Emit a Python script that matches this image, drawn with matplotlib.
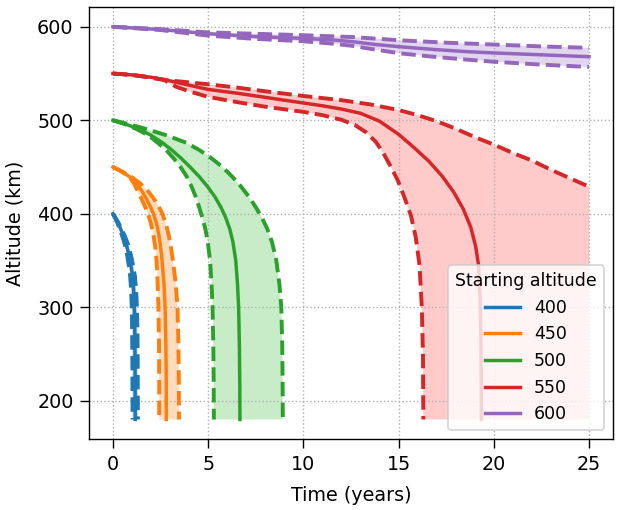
import matplotlib
matplotlib.use("Agg")
import matplotlib.pyplot as plt

plt.rcParams["font.size"] = 11

# starting altitudes (km), simulation horizon (years), re-entry altitude (km)
start_alt = [400, 450, 500, 550, 600]
T_MAX = 25
ALT_END = 180

line_colors = ["C0", "C1", "C2", "C3", "C4"]
band_colors = ["#bed7eb", "#ffdcbf", "#c8ecc8", "#ffcaca", "#e2d5ee"]

# --- 400 km: altitude grid and time to reach it (mean / fast / slow decay) ---
alt_400 = [400, 395, 390, 383, 376, 369, 361, 354, 343, 333, 320, 308, 290,
           270, 240, 210, 180]
t_400_mean = [0, 0.14, 0.27, 0.42, 0.56, 0.68, 0.78, 0.86, 0.96, 1.03, 1.08,
              1.11, 1.135, 1.15, 1.16, 1.165, 1.17]
t_400_low = [0, 0.125, 0.24, 0.37, 0.49, 0.60, 0.69, 0.76, 0.845, 0.905, 0.95,
             0.975, 1.0, 1.01, 1.02, 1.025, 1.03]
t_400_high = [0, 0.16, 0.30, 0.47, 0.63, 0.76, 0.875, 0.965, 1.075, 1.155, 1.21,
              1.245, 1.27, 1.29, 1.30, 1.305, 1.31]

# --- 450 km ---
alt_450 = [450, 445, 439, 432, 424, 416, 408, 400, 390, 378, 365, 350, 325,
           300, 260, 220, 180]
t_450_mean = [0, 0.48, 0.92, 1.25, 1.53, 1.76, 1.96, 2.13, 2.28, 2.41, 2.50,
              2.58, 2.68, 2.74, 2.78, 2.80, 2.80]
t_450_low = [0, 0.46, 0.88, 1.12, 1.30, 1.50, 1.68, 1.84, 1.99, 2.12, 2.22,
             2.29, 2.35, 2.39, 2.42, 2.43, 2.43]
t_450_high = [0, 0.50, 1.00, 1.45, 1.85, 2.15, 2.40, 2.60, 2.77, 2.92, 3.04,
              3.15, 3.30, 3.39, 3.44, 3.46, 3.47]

# --- 500 km ---
alt_500 = [500, 496, 491, 484, 476, 468, 459, 450, 440, 429, 418, 407, 396,
           384, 370, 350, 325, 300, 260, 220, 180]
t_500_mean = [0, 0.65, 1.30, 2.00, 2.60, 3.10, 3.60, 4.05, 4.52, 4.97, 5.36,
              5.67, 5.92, 6.13, 6.30, 6.45, 6.54, 6.60, 6.64, 6.66, 6.67]
t_500_low = [0, 0.60, 1.20, 1.85, 2.35, 2.80, 3.20, 3.55, 3.87, 4.13, 4.35,
             4.53, 4.69, 4.85, 4.98, 5.10, 5.18, 5.23, 5.27, 5.29, 5.30]
t_500_high = [0, 0.80, 1.70, 2.80, 3.85, 4.55, 5.20, 5.75, 6.25, 6.73, 7.15,
              7.50, 7.82, 8.10, 8.35, 8.58, 8.74, 8.84, 8.89, 8.91, 8.92]

# --- 550 km: time grid and altitude reached ---
t_550_mean = [0, 1, 2, 2.8, 4, 5, 6.5, 8, 10, 11, 12, 13, 14, 15, 15.8, 16.6,
              17.3, 17.9, 18.4, 18.8, 19.05, 19.2, 19.28, 19.33, 19.35]
alt_550_mean = [550, 548.5, 546, 543, 537.5, 533, 529, 524.5, 518.5, 515.5,
                512, 507.5, 499, 485, 471, 456, 440, 423, 405, 385, 365, 345,
                310, 260, 180]
t_550_low = [0, 1, 1.9, 2.7, 3.3, 4, 5, 6.5, 8, 10, 11, 12, 12.7, 13.3, 13.8,
             14.2, 14.6, 14.95, 15.3, 15.65, 15.9, 16.1, 16.22, 16.28, 16.3]
alt_550_low = [550, 548.5, 546, 543, 536, 531, 525, 519.5, 514.5, 509, 505.5,
               500.5, 495, 487, 477, 465, 450, 436, 418, 398, 375, 345, 300,
               250, 180]
t_550_high = [0, 1, 1.9, 2.8, 4, 5, 6.5, 8, 10, 12, 13.5, 15, 16, 17, 18, 19,
              20, 21, 22, 23, 24, 25]
alt_550_high = [550, 548.5, 546, 543, 540.5, 538.5, 535, 531, 526, 521.5, 517,
                511, 505.5, 499, 491, 482, 474, 465, 457, 447, 438, 429]

# --- 600 km ---
t_600_mean = [0, 2.5, 5, 7.5, 10, 11.5, 12.6, 13.8, 15.1, 16.8, 18.5, 20,
              22.5, 25]
alt_600_mean = [600, 597, 592.6, 589.5, 587.6, 586, 584, 581, 578.6, 575.8,
                573.5, 572, 570, 568]
t_600_low = [0, 2.5, 5, 7.5, 10, 11.5, 12.6, 13.8, 15.1, 16.8, 18.5, 20,
             22.5, 25]
alt_600_low = [600, 596.5, 590.5, 587, 584.5, 582, 579.5, 575.5, 571.5, 568,
               565, 562.6, 559.5, 557]
t_600_high = [0, 2.5, 5, 7.5, 10, 12.6, 15.1, 17.5, 20, 22.5, 25]
alt_600_high = [600, 597.5, 594, 592.5, 591, 589, 585.5, 583, 581, 579, 577.5]

groups = [
    ((t_400_mean, alt_400), (t_400_low, alt_400), (t_400_high, alt_400)),
    ((t_450_mean, alt_450), (t_450_low, alt_450), (t_450_high, alt_450)),
    ((t_500_mean, alt_500), (t_500_low, alt_500), (t_500_high, alt_500)),
    ((t_550_mean, alt_550_mean), (t_550_low, alt_550_low), (t_550_high, alt_550_high)),
    ((t_600_mean, alt_600_mean), (t_600_low, alt_600_low), (t_600_high, alt_600_high)),
]

fig = plt.figure(figsize=(619 / 125, 510 / 125), dpi=125)
ax = fig.add_axes([0.144, 0.139, 0.846, 0.847])

for i, (alt0, (mean, low, high)) in enumerate(zip(start_alt, groups)):
    c = line_colors[i]
    # shaded band between fast and slow decay
    xs = list(low[0])
    ys = list(low[1])
    if low[1][-1] == ALT_END and high[1][-1] > ALT_END:
        xs.append(T_MAX)
        ys.append(ALT_END)
    xs += high[0][::-1]
    ys += high[1][::-1]
    ax.fill(xs, ys, color=band_colors[i], lw=0, zorder=1)

    ax.plot(mean[0], mean[1], color=c, lw=2, label=str(alt0), zorder=2)
    ax.plot(low[0], low[1], color=c, lw=2.25, ls="--", zorder=2)
    ax.plot(high[0], high[1], color=c, lw=2.25, ls="--", zorder=2)

ax.set_xlim(-1.25, 26.25)
ax.set_ylim(159, 621)
ax.set_xticks([0, 5, 10, 15, 20, 25])
ax.set_yticks([200, 300, 400, 500, 600])
ax.tick_params(length=5, pad=4)
ax.grid(ls=":")
ax.set_xlabel("Time (years)", labelpad=7)
ax.set_ylabel("Altitude (km)", labelpad=7)
ax.legend(title="Starting altitude", loc="lower right", fontsize=10,
          title_fontsize=10)

fig.savefig("out.png", dpi=125)
